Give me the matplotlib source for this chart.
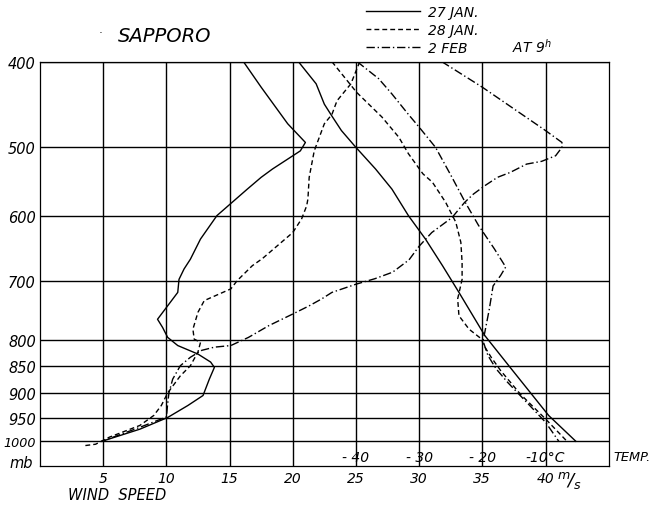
import numpy as np
import matplotlib
matplotlib.use("Agg")
import matplotlib.pyplot as plt
from matplotlib.lines import Line2D
from matplotlib.transforms import blended_transform_factory

plt.rcParams.update({
    "font.family": ["DejaVu Sans"],
    "font.style": "oblique",
    "font.size": 10,
    "mathtext.fontset": "dejavusans",
})

# pressure levels (mb) and their spacing on the original diagram (roughly height)
LEVELS = [400, 500, 600, 700, 800, 850, 900, 950, 1000, 1050]
LEVEL_POS = [62.7, 147.7, 217.3, 282.3, 340.7, 367.3, 394.0, 419.0, 442.3, 466.7]

WIND_TICKS = [5, 10, 15, 20, 25, 30, 35, 40]
TEMP_TICKS = [-40, -30, -20, -10]
TEMP_LABELS = ["- 40", "- 30", "- 20", "-10°C"]

# wind speed (m/s)
p_wind_27 = [400, 430, 473, 495, 506, 532, 544, 561, 599, 635, 666, 681, 697, 719, 742,
             765, 779, 796, 811, 827, 842, 852, 874, 905, 925, 949, 974, 1000]
ws_27 = [16.1, 17.5, 19.6, 21.0, 20.6, 18.4, 17.5, 16.4, 14.0, 12.7, 11.9, 11.4, 11.0, 10.9, 10.1,
         9.3, 9.7, 10.1, 10.9, 12.5, 13.5, 13.8, 13.4, 12.9, 11.7, 10.1, 7.9, 4.9]

p_wind_28 = [400, 426, 446, 462, 473, 506, 544, 575, 585, 604, 625, 645, 665, 676, 699, 713,
             733, 753, 782, 799, 805, 823, 849, 868, 900, 925, 945, 966, 991, 1006, 1009]
ws_28 = [25.3, 24.6, 23.5, 23.1, 22.5, 21.7, 21.3, 21.2, 21.1, 20.7, 20.0, 18.8, 17.6, 16.8, 15.6, 15.1,
         13.0, 12.5, 12.1, 12.2, 12.7, 12.5, 11.9, 11.1, 10.1, 9.6, 9.0, 7.9, 5.5, 4.4, 3.5]

p_wind_02 = [400, 430, 481, 495, 501, 513, 521, 525, 537, 544, 556, 568, 580, 602, 625, 646, 667,
             686, 696, 705, 719, 730, 742, 756, 776, 796, 811, 814, 820, 833, 849, 874, 900,
             922, 948, 970, 1000]
ws_02 = [31.8, 35.0, 40.0, 41.3, 41.3, 40.8, 39.7, 38.5, 37.2, 36.2, 35.2, 34.3, 33.6, 32.6, 31.0, 30.0, 29.2,
         27.9, 26.5, 25.0, 23.1, 22.3, 21.3, 20.0, 18.1, 16.5, 15.1, 13.8, 12.8, 11.9, 11.1, 10.5, 10.2,
         10.1, 10.0, 7.9, 4.9]

# temperature (deg C)
p_temp_27 = [400, 426, 450, 464, 481, 500, 532, 561, 599, 635, 676, 719, 793, 852, 945, 1000]
t_27 = [-49.1, -46.3, -45.0, -43.8, -42.3, -40.1, -36.9, -34.3, -31.7, -29.0, -26.3, -23.7,
        -19.6, -15.6, -9.5, -5.2]

p_temp_28 = [400, 436, 465, 489, 510, 539, 551, 580, 609, 640, 671, 697, 730, 759, 782, 799,
             808, 833, 858, 902, 952, 1000]
t_28 = [-43.8, -39.9, -35.9, -33.2, -31.7, -29.4, -27.9, -25.8, -24.2, -23.4, -23.2, -23.2,
        -23.9, -23.7, -22.1, -20.1, -19.9, -18.6, -17.1, -14.0, -10.0, -6.6]

p_temp_02 = [400, 420, 438, 462, 477, 501, 544, 580, 614, 650, 678, 691, 708, 748, 787, 802,
             830, 855, 880, 925, 959, 1000]
t_02 = [-39.8, -36.4, -34.3, -31.7, -30.0, -27.4, -24.8, -22.7, -20.6, -18.1, -16.3, -17.1,
        -18.3, -18.9, -19.6, -19.9, -19.1, -17.8, -16.0, -12.5, -10.0, -7.9]


def temp_to_wind(t):
    # temperature scale shares the x axis: -40 C sits on 25 m/s, 10 C per 5 m/s
    return (np.asarray(t) + 90.0) / 2.0


def fwd(p):
    return np.interp(p, LEVELS, LEVEL_POS)


def inv(y):
    return np.interp(y, LEVEL_POS, LEVELS)


fig = plt.figure(figsize=(6.54, 5.06), dpi=100)
ax = fig.add_axes([40 / 654, 1 - 466.7 / 506, 568.7 / 654, 404 / 506])
ax.set_yscale("function", functions=(fwd, inv))
ax.set_ylim(1050, 400)
ax.set_xlim(0, 45)

for x in WIND_TICKS:
    ax.axvline(x, color="black", lw=1.0, zorder=1)
for p in LEVELS[:-1]:
    ax.axhline(p, color="black", lw=1.0, zorder=1)
for s in ax.spines.values():
    s.set_linewidth(0.9)

solid = dict(color="black", lw=1.0, ls="-")
dashed = dict(color="black", lw=1.0, ls=(0, (3.5, 2.2)))
dashdot = dict(color="black", lw=1.0, ls=(0, (6, 2, 1, 2)))

ax.plot(ws_27, p_wind_27, **solid, zorder=3)
ax.plot(ws_28, p_wind_28, **dashed, zorder=3)
ax.plot(ws_02, p_wind_02, **dashdot, zorder=3)
ax.plot(temp_to_wind(t_27), p_temp_27, **solid, zorder=3)
ax.plot(temp_to_wind(t_28), p_temp_28, **dashed, zorder=3)
ax.plot(temp_to_wind(t_02), p_temp_02, **dashdot, zorder=3)

ax.set_xticks(WIND_TICKS)
ax.set_xticklabels([str(v) for v in WIND_TICKS])
ax.set_yticks(LEVELS[:-1])
ax.set_yticklabels([str(v) for v in LEVELS[:-1]])
ax.tick_params(axis="x", length=0, labelsize=10, pad=4)
ax.tick_params(axis="y", length=0, labelsize=10.5, pad=3)
ax.get_yticklabels()[-1].set_fontsize(9.2)

# temperature scale inside the bottom strip
trans = blended_transform_factory(ax.transData, ax.transAxes)
for t, lab in zip(TEMP_TICKS, TEMP_LABELS):
    ax.text(temp_to_wind(t), 0.022, lab, transform=trans, ha="center", va="center", fontsize=10)
ax.text(1.008, 0.022, "TEMP.", transform=ax.transAxes, ha="left", va="center", fontsize=9.3)
ax.text(40.9, -0.035, r"$^{m}\!/_{s}$", transform=trans, ha="left", va="center", fontsize=13)

fig.text(33 / 654, 1 - 463 / 506, "mb", ha="right", va="center", fontsize=10.5)
fig.text(117 / 654, 1 - 496 / 506, "WIND  SPEED", ha="center", va="center", fontsize=10.5)
fig.text(118 / 654, 1 - 36 / 506, "SAPPORO", ha="left", va="center", fontsize=14)
fig.text(100 / 654, 1 - 33 / 506, "·", ha="center", va="center", fontsize=8)

handles = [Line2D([], [], **solid), Line2D([], [], **dashed), Line2D([], [], **dashdot)]
fig.legend(handles, ["27 JAN.", "28 JAN.", "2 FEB"], loc="upper left",
           bbox_to_anchor=(366 / 654, 1 - 6 / 506), frameon=False, fontsize=10,
           handlelength=3.9, handletextpad=0.6, labelspacing=0.3, borderpad=0, borderaxespad=0)
fig.text(512 / 654, 1 - 47 / 506, r"AT 9$^{h}$", ha="left", va="center", fontsize=10)

fig.savefig("out.png", dpi=100)
